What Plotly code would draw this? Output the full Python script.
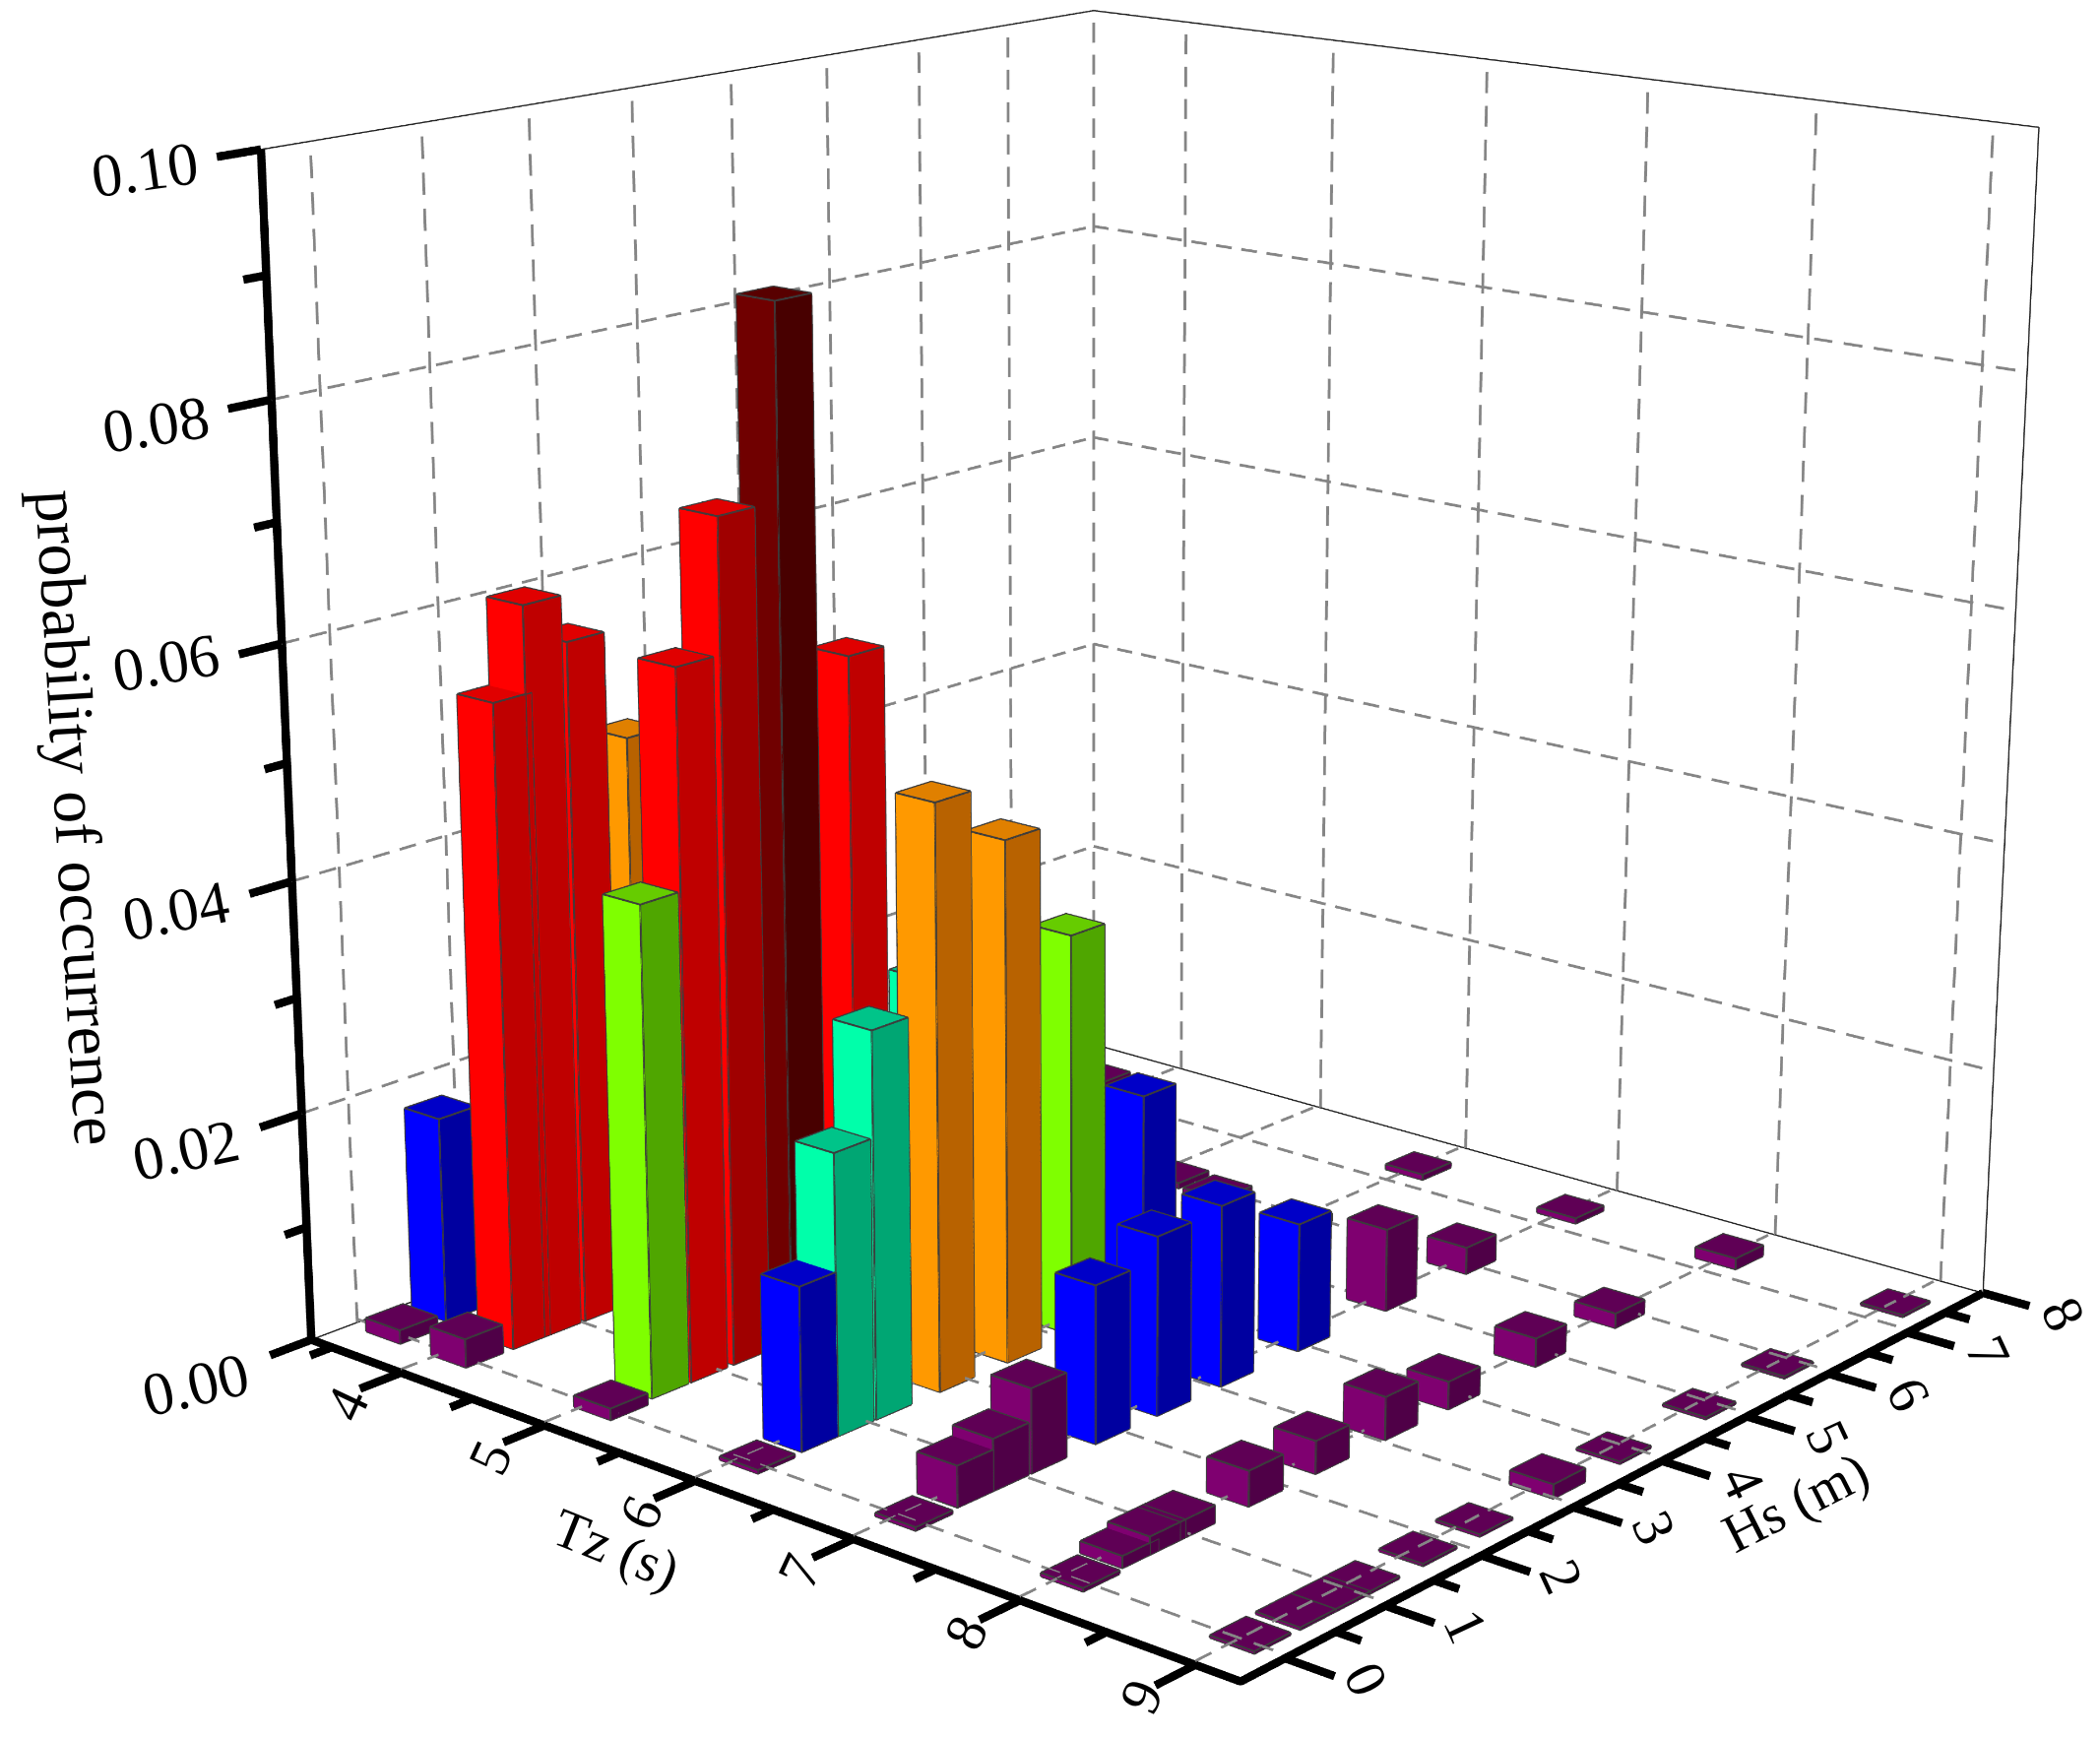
import plotly.graph_objects as go

# ---- chart data ----
bar_tz = [3.6,3.55,
          4.07,4.07,4.07,4.07,4.07,3.75,
          5.07,5.03,5.03,5.03,5.03,5.03,5.1,5.1,
          6.04,6.02,6.02,6.02,6.02,6.02,6.02,6.02,6.02,6.02,6,
          7.03,7,7,7,7,7,7,7,7,7,7,
          8.03,8,8,8,8,8,8,8,8,8,8,
          9,9,9,9,9,9,9,9,9,9,9]
bar_hs = [0.1,0.6,
          0.1,0.55,0.85,1.25,1.8,7.4,
          0.1,0.55,0.93,1.35,1.93,2.6,3.25,6.05,
          0.1,0.55,0.9,1.28,1.92,2.62,3.3,4.08,4.95,5.9,7.4,
          0.1,0.55,0.9,1.28,1.93,2.57,3.25,4.1,5.1,6.05,7.4,
          0.1,0.53,0.8,1.1,1.8,2.5,3.25,3.95,4.95,5.9,7.4,
          0.1,0.55,0.9,1.2,1.8,2.4,3.2,3.95,4.95,5.9,7.4]
bar_p = [0.0012,0.018,
         0.0025,0.0556,0.063,0.059,0.0495,0.0005,
         0.001,0.042,0.0605,0.0718,0.088,0.0574,0.028,0.0005,
         0.0003,0.014,0.024,0.033,0.050,0.045,0.035,0.0186,0.0065,0.0008,0.0005,
         0.0003,0.0035,0.0044,0.0072,0.0135,0.0154,0.0157,0.0112,0.0073,0.0024,0.0005,
         0.0003,0.001,0.0015,0.0015,0.003,0.0028,0.0037,0.0024,0.0025,0.0013,0.001,
         0.0002,0.0002,0.0002,0.0002,0.0002,0.0002,0.0012,0.0002,0.0002,0.0002,0.0002]
tz_ticks = [4,5,6,7,8,9]
hs_ticks = [0,1,2,3,4,5,6,7,8]
p_ticks = [0.00,0.02,0.04,0.06,0.08,0.10]
p_labels = ["0.00","0.02","0.04","0.06","0.08","0.10"]
tz_minor = [3.5,4.5,5.5,6.5,7.5,8.5]
hs_minor = [0.5,1.5,2.5,3.5,4.5,5.5,6.5,7.5]
p_minor = [0.01,0.03,0.05,0.07,0.09]

# ---- styles ----
S = 1.125   # page zoom of the plot, needed because the drawing buffer stops at 4096 px
TMIN,TMAX = 3.35,9.25
HMIN,HMAX = -0.43,8.0
ZMAX = 0.10
PAD = 0.12
BAR_T = 0.124
BAR_H = 0.177
BANDS = [(0.01,"#7f0070","#4f0047","#5f0055"),
         (0.02,"#0000ff","#0000a0","#0000c8"),
         (0.034,"#00ffaa","#00a673","#00c489"),
         (0.0435,"#7fff00","#4fa600","#66cc00"),
         (0.0535,"#ff9900","#b86200","#e08000"),
         (0.0665,"#ff0000","#bf0000","#e00000"),
         (0.08,"#ff0000","#a00000","#e00000"),
         (1.0,"#700000","#480000","#580000")]

def style(p):
    for b in BANDS:
        if p < b[0]:
            return b[1:]

vx,vy,vz,ii,jj,kk,fc = [],[],[],[],[],[],[]
ex,ey,ez = [],[],[]
for t,h,p in zip(bar_tz,bar_hs,bar_p):
    front,side,top = style(p)
    t0,t1,h0,h1 = t-BAR_T,t+BAR_T,h-BAR_H,h+BAR_H
    faces = [([(t0,h0,0),(t1,h0,0),(t1,h0,p),(t0,h0,p)],front),
             ([(t1,h0,0),(t1,h1,0),(t1,h1,p),(t1,h0,p)],side),
             ([(t0,h0,p),(t1,h0,p),(t1,h1,p),(t0,h1,p)],top),
             ([(t0,h1,0),(t1,h1,0),(t1,h1,p),(t0,h1,p)],front),
             ([(t0,h0,0),(t0,h1,0),(t0,h1,p),(t0,h0,p)],side)]
    for pts,c in faces:
        n = len(vx)
        for a,b,d in pts:
            vx.append(a); vy.append(b); vz.append(d)
        ii += [n,n]; jj += [n+1,n+2]; kk += [n+2,n+3]; fc += [c,c]
    for path in ([(t0,h0,p),(t1,h0,p),(t1,h1,p),(t0,h1,p),(t0,h0,p)],
                 [(t0,h0,0),(t1,h0,0),(t1,h1,0)],
                 [(t0,h0,0),(t0,h0,p)],[(t1,h0,0),(t1,h0,p)],[(t1,h1,0),(t1,h1,p)]):
        for a,b,d in path:
            ex.append(a); ey.append(b); ez.append(d+0.00002)
        ex.append(None); ey.append(None); ez.append(None)

def poly(segs):
    X,Y,Z = [],[],[]
    for s in segs:
        for a,b,c in s:
            X.append(a); Y.append(b); Z.append(c)
        X.append(None); Y.append(None); Z.append(None)
    return X,Y,Z

def dashed(a,b,n=34,on=0.62):
    out = []
    for i in range(n):
        f0 = i/n; f1 = (i+on)/n
        out.append([tuple(a[k]+(b[k]-a[k])*f0 for k in range(3)),
                    tuple(a[k]+(b[k]-a[k])*f1 for k in range(3))])
    return out

ZF = 0.0003
grid = []
for z in p_ticks[1:-1]:
    grid += dashed((TMIN,HMIN,z),(TMIN,HMAX,z))
    grid += dashed((TMIN,HMAX,z),(TMAX,HMAX,z))
for h in hs_ticks[:-1]:
    grid += dashed((TMIN,h,0),(TMIN,h,ZMAX))
    grid += dashed((TMIN,h,ZF),(TMAX,h,ZF))
for t in tz_ticks:
    grid += dashed((t,HMAX,0),(t,HMAX,ZMAX))
    grid += dashed((t,HMIN,ZF),(t,HMAX,ZF))
grid += dashed((TMIN,HMAX,0),(TMIN,HMAX,ZMAX))

thin = [[(TMIN,HMIN,ZMAX),(TMIN,HMAX,ZMAX),(TMAX,HMAX,ZMAX),(TMAX,HMAX,0)],
        [(TMIN,HMIN,0),(TMIN,HMAX,0),(TMAX,HMAX,0)]]
thick = [[(TMIN,HMIN,ZMAX),(TMIN,HMIN,0),(TMAX,HMIN,0),(TMAX,HMAX,0)]]
MAJ_H,MIN_H,MAJ_T,MIN_T = 0.38,0.2,0.27,0.14
for z in p_ticks:
    thick.append([(TMIN,HMIN,z),(TMIN,HMIN-MAJ_H,z)])
for z in p_minor:
    thick.append([(TMIN,HMIN,z),(TMIN,HMIN-MIN_H,z)])
for t in tz_ticks:
    thick.append([(t,HMIN,0),(t,HMIN-MAJ_H,0)])
for t in tz_minor:
    thick.append([(t,HMIN,0),(t,HMIN-MIN_H,0)])
for h in hs_ticks:
    thick.append([(TMAX,h,0),(TMAX+MAJ_T,h,0)])
for h in hs_minor:
    thick.append([(TMAX,h,0),(TMAX+MIN_T,h,0)])

def line_trace(segs,color,width):
    X,Y,Z = poly(segs)
    return go.Scatter3d(x=X,y=Y,z=Z,mode="lines",line=dict(color=color,width=width),
                        hoverinfo="skip",showlegend=False)

fig = go.Figure()
fig.add_trace(go.Mesh3d(x=vx,y=vy,z=vz,i=ii,j=jj,k=kk,facecolor=fc,flatshading=True,
                        lighting=dict(ambient=1,diffuse=0,specular=0,fresnel=0,roughness=1),
                        hoverinfo="skip",showscale=False))
fig.add_trace(go.Scatter3d(x=ex,y=ey,z=ez,mode="lines",line=dict(color="#3c3c3c",width=3.5),
                           hoverinfo="skip",showlegend=False))
fig.add_trace(line_trace(grid,"#858585",5))
fig.add_trace(line_trace(thin,"#222222",2.5))
fig.add_trace(line_trace(thick,"#000000",15))

FONT = "Liberation Serif"
ann = []
def label(x,y,z,text,size,angle,dx,dy):
    ann.append(dict(x=x,y=y,z=z,text=text,showarrow=False,textangle=angle,xshift=dx/S,yshift=dy/S,
                    font=dict(family=FONT,size=size/S,color="#000000")))
for z,txt,ang,dy in zip(p_ticks,p_labels,[-13,-12,-11,-10,-9,-8],[-46,-37,-30,-19,-25,-20]):
    label(TMIN,HMIN,z,txt,62,ang,-118,dy)
for t in tz_ticks:
    label(t,HMIN,0,str(t),58,-65,-55,-32)
for h in hs_ticks:
    label(TMAX,h,0,str(h),58,65,82,-21)
label(6.3,HMIN,0,"Tz (s)",56,22,-128,-52)
label(TMAX,4,0,"Hs (m)",56,-27,136,-42)
label(TMIN,HMIN,0.05,"probability of occurrence",66,86.5,-213,-55)

tp = (TMAX-TMIN)*PAD; hp = (HMAX-HMIN)*PAD; zp = ZMAX*PAD
hidden = dict(visible=False,showgrid=False,showticklabels=False,zeroline=False,showspikes=False)
ASP = 1+2*PAD
fig.update_layout(
    width=1982,height=4095,autosize=False,
    margin=dict(l=0,r=0,t=0,b=0),
    paper_bgcolor="white",showlegend=False,
    scene=dict(
        domain=dict(x=[0,1],y=[0,1]),
        xaxis=dict(range=[TMIN-tp,TMAX+tp],**hidden),
        yaxis=dict(range=[HMIN-hp,HMAX+hp],**hidden),
        zaxis=dict(range=[-zp,ZMAX+zp],**hidden),
        aspectmode="manual",aspectratio=dict(x=ASP,y=ASP,z=ASP),
        camera=dict(eye=dict(x=2.77,y=-3.30,z=1.22),
                    center=dict(x=-0.037,y=-0.038,z=-0.015),
                    up=dict(x=0,y=0,z=1),
                    projection=dict(type="perspective")),
        annotations=ann,
    ),
)
shift = ("var d=document.getElementById('{plot_id}');d.style.transformOrigin='0 0';"
         "d.style.transform='translate(-12px,-1535px) scale(%s)';"
         "document.documentElement.style.overflow='hidden';document.body.style.overflow='hidden';" % S)
fig.write_html("out.html",config=dict(displayModeBar=False),post_script=shift)
